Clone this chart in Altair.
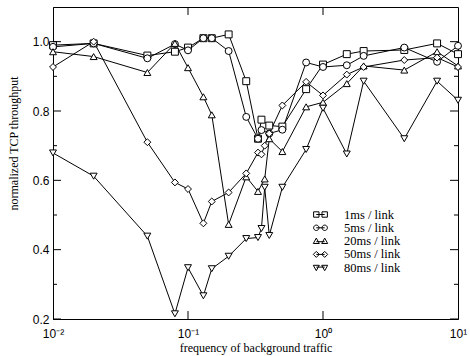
import altair as alt
import pandas as pd

series_names = ["1ms / link", "5ms / link", "20ms / link", "50ms / link", "80ms / link"]

x_1ms = [0.01, 0.02, 0.05, 0.08, 0.1, 0.13, 0.15, 0.2, 0.27, 0.33, 0.35, 0.4, 0.5, 0.75, 1, 1.5, 2, 4, 7, 10]
y_1ms = [0.99, 0.995, 0.96, 0.971, 0.983, 1.01, 1.01, 1.021, 0.886, 0.72, 0.775, 0.758, 0.755, 0.863, 0.934, 0.964, 0.973, 0.976, 0.995, 0.964]

x_5ms = [0.01, 0.02, 0.05, 0.08, 0.1, 0.13, 0.15, 0.2, 0.27, 0.33, 0.35, 0.4, 0.5, 0.75, 1, 1.5, 2, 4, 7, 10]
y_5ms = [0.985, 0.995, 0.952, 0.993, 0.975, 1.01, 1.01, 0.973, 0.783, 0.72, 0.745, 0.735, 0.746, 0.94, 0.927, 0.932, 0.959, 0.983, 0.942, 0.988]

x_20ms = [0.01, 0.02, 0.05, 0.08, 0.1, 0.13, 0.15, 0.2, 0.27, 0.33, 0.37, 0.4, 0.5, 0.75, 1, 1.5, 2, 4, 7, 10]
y_20ms = [0.971, 0.957, 0.911, 0.995, 0.925, 0.841, 0.789, 0.473, 0.61, 0.568, 0.604, 0.72, 0.683, 0.812, 0.825, 0.879, 0.930, 0.918, 0.971, 0.930]

x_50ms = [0.01, 0.02, 0.05, 0.08, 0.1, 0.13, 0.15, 0.2, 0.27, 0.33, 0.35, 0.37, 0.4, 0.5, 0.75, 1, 1.5, 2, 4, 7, 10]
y_50ms = [0.927, 1.0, 0.71, 0.594, 0.575, 0.476, 0.539, 0.565, 0.62, 0.68, 0.675, 0.70, 0.735, 0.816, 0.884, 0.845, 0.905, 0.927, 0.947, 0.954, 0.927]

x_80ms = [0.01, 0.02, 0.05, 0.08, 0.1, 0.13, 0.15, 0.2, 0.27, 0.33, 0.35, 0.37, 0.4, 0.5, 0.75, 1, 1.5, 2, 4, 7, 10]
y_80ms = [0.679, 0.612, 0.439, 0.215, 0.348, 0.267, 0.345, 0.381, 0.432, 0.435, 0.461, 0.58, 0.441, 0.58, 0.689, 0.808, 0.676, 0.886, 0.72, 0.886, 0.831]

x_tick_values = [0.01, 0.1, 1, 10]
x_tick_labels = ["10\u207b\u00b2", "10\u207b\u00b9", "10\u2070", "10\u00b9"]
y_tick_values = [0.2, 0.4, 0.6, 0.8, 1.0]
y_minor_values = [0.3, 0.5, 0.7, 0.9]
x_inner_ticks = [0.1, 1]

W, H = 405, 312

all_x = [x_1ms, x_5ms, x_20ms, x_50ms, x_80ms]
all_y = [y_1ms, y_5ms, y_20ms, y_50ms, y_80ms]
rows = []
for name, xs, ys in zip(series_names, all_x, all_y):
    for i, (xv, yv) in enumerate(zip(xs, ys)):
        rows.append({"series": name, "x": xv, "y": yv, "i": i})
df = pd.DataFrame(rows)

xscale = alt.Scale(type="log", domain=[0.01, 10], nice=False)
yscale = alt.Scale(domain=[0.2, 1.1], nice=False, zero=False)

label_expr = " : ".join(
    [f"datum.value < {v * 1.5} ? '{lab}'" for v, lab in zip(x_tick_values[:-1], x_tick_labels[:-1])]
) + f" : '{x_tick_labels[-1]}'"

x_axis = alt.Axis(values=x_tick_values, labelExpr=label_expr, ticks=False, grid=False,
                  title="frequency of background traffic", titleFont="Liberation Serif",
                  titleFontSize=12, titleFontWeight="normal", titleX=W / 2, titleY=32,
                  titleBaseline="alphabetic", labelFont="Liberation Sans", labelFontSize=12,
                  labelPadding=9, labelFlush=False)
y_axis = alt.Axis(values=y_tick_values, format=".1f", ticks=False, grid=False,
                  title="normalized TCP throughput", titleFont="Liberation Serif",
                  titleFontSize=12, titleFontWeight="normal", titleX=-33, titleY=136,
                  labelFont="Liberation Sans", labelFontSize=12, labelPadding=4)

lines = alt.Chart(df).mark_line(color="black", strokeWidth=1).encode(
    x=alt.X("x:Q", scale=xscale, axis=x_axis),
    y=alt.Y("y:Q", scale=yscale, axis=y_axis),
    detail="series:N",
    order="i:Q",
)

marker_shapes = ["square", "circle", "triangle-up", "diamond", "triangle-down"]
points = alt.Chart(df).mark_point(filled=True, fill="white", stroke="black", strokeWidth=1,
                                  opacity=1, size=48).encode(
    x=alt.X("x:Q", scale=xscale),
    y=alt.Y("y:Q", scale=yscale),
    shape=alt.Shape("series:N", scale=alt.Scale(domain=series_names, range=marker_shapes), legend=None),
)

legend_paths = [
    "M-1.15,-0.45H-0.25V0.45H-1.15Z M-0.7,0H0.7 M0.25,-0.45H1.15V0.45H0.25Z",
    "M-0.25,0A0.45,0.45 0 1 1 -1.15,0A0.45,0.45 0 1 1 -0.25,0Z M-0.7,0H0.7 M1.15,0A0.45,0.45 0 1 1 0.25,0A0.45,0.45 0 1 1 1.15,0Z",
    "M-1.2,0.4L-0.7,-0.5L-0.2,0.4Z M-0.7,0.1H0.7 M0.2,0.4L0.7,-0.5L1.2,0.4Z",
    "M-1.2,0L-0.7,-0.5L-0.2,0L-0.7,0.5Z M-0.7,0H0.7 M0.2,0L0.7,-0.5L1.2,0L0.7,0.5Z",
    "M-1.2,-0.4L-0.2,-0.4L-0.7,0.5Z M-0.7,-0.1H0.7 M0.2,-0.4L1.2,-0.4L0.7,0.5Z",
]
legend_df = pd.DataFrame({"series": series_names})
legend_layer = alt.Chart(legend_df).mark_point(filled=False, color="black", strokeWidth=1,
                                               opacity=1, size=144).encode(
    shape=alt.Shape("series:N", scale=alt.Scale(domain=series_names, range=legend_paths),
                    legend=alt.Legend(title=None, orient="none", legendX=261, legendY=201,
                                      labelFont="Liberation Serif", labelFontSize=12.5,
                                      labelColor="black", labelOffset=17, rowPadding=0.3,
                                      padding=0, symbolSize=144, symbolStrokeColor="black",
                                      symbolStrokeWidth=1, symbolFillColor="white")),
).transform_filter("false")

ydf_major = pd.DataFrame({"v": y_tick_values})
ydf_minor = pd.DataFrame({"v": y_minor_values})
xdf = pd.DataFrame({"v": x_inner_ticks})

def yticks(d, x0, x1):
    return alt.Chart(d).mark_rule(color="black", strokeWidth=1).encode(
        y=alt.Y("v:Q", scale=yscale), x=alt.value(x0), x2=alt.value(x1))

def xticks(d, y0, y1):
    return alt.Chart(d).mark_rule(color="black", strokeWidth=1).encode(
        x=alt.X("v:Q", scale=xscale), y=alt.value(y0), y2=alt.value(y1))

ticks = [
    yticks(ydf_major, 0, 8), yticks(ydf_minor, 0, 4),
    yticks(ydf_major, W - 8, W), yticks(ydf_minor, W - 4, W),
    xticks(xdf, H - 8, H), xticks(xdf, 0, 8),
]

chart = alt.layer(lines, points, *ticks, legend_layer).resolve_scale(
    shape="independent"
).properties(
    width=W, height=H,
    autosize=alt.AutoSizeParams(type="none"),
    padding={"left": 53, "top": 7, "right": 12, "bottom": 37},
    background="white",
).configure_view(stroke="black", strokeWidth=1).configure_axis(
    domainColor="black", labelColor="black", titleColor="black", domainWidth=1
)

chart.save("out.html", embed_options={"renderer": "svg", "actions": False})
